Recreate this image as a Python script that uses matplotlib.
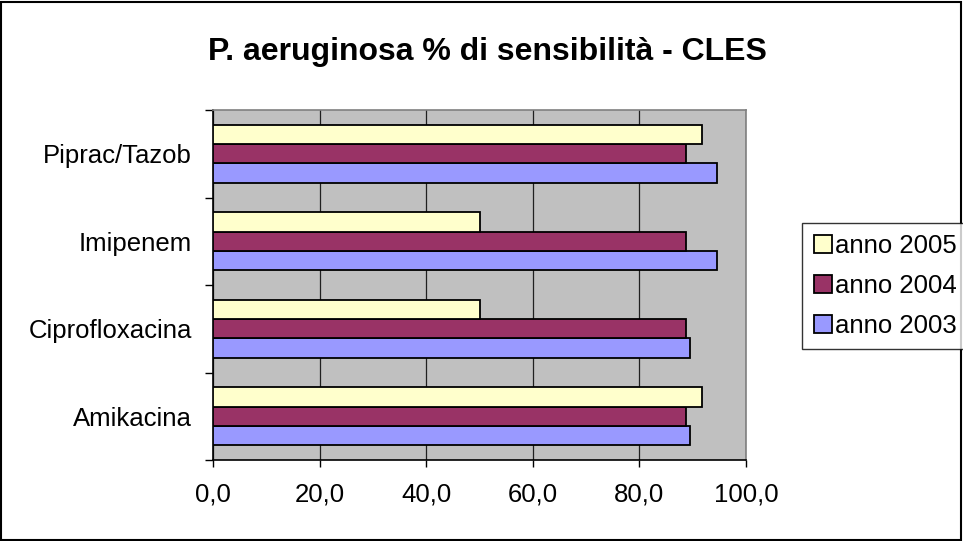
import matplotlib
matplotlib.use("Agg")
import matplotlib.pyplot as plt
import numpy as np
from matplotlib.patches import Rectangle

plt.rcParams['font.family'] = ['Liberation Sans', 'DejaVu Sans']

categories = ["Amikacina", "Ciprofloxacina", "Imipenem", "Piprac/Tazob"]
anno_2003 = [89.4, 89.4, 94.6, 94.6]
anno_2004 = [88.7, 88.7, 88.7, 88.7]
anno_2005 = [91.7, 50.0, 50.0, 91.7]
x_ticks = [0, 20, 40, 60, 80, 100]
x_labels = ["0,0", "20,0", "40,0", "60,0", "80,0", "100,0"]

series = [("anno 2003", anno_2003, "#9999FF"),
          ("anno 2004", anno_2004, "#993366"),
          ("anno 2005", anno_2005, "#FFFFCC")]

fig = plt.figure(figsize=(9.63, 5.41), dpi=100)
fig.patches.append(Rectangle((0.001, 0.001), 0.997, 0.996, transform=fig.transFigure,
                             fill=False, edgecolor="black", linewidth=1.5))

ax = fig.add_axes([213 / 963, 81 / 541, 533 / 963, 350 / 541])
ax.set_facecolor("#C0C0C0")

h = 2 / 9
y = np.arange(len(categories))
handles = []
for i, (name, vals, col) in enumerate(series):
    b = ax.barh(y + (i - 1) * h, vals, height=h, color=col, edgecolor="black",
                linewidth=1.3, label=name, zorder=3)
    handles.append(b)

ax.set_xlim(0, 100)
ax.set_ylim(-0.5, len(categories) - 0.5)
ax.set_xticks(x_ticks)
ax.set_xticklabels(x_labels, fontsize=18.5)
ax.set_yticks(y)
ax.set_yticklabels(categories, fontsize=18.5)
ax.tick_params(axis="y", length=0, pad=15)
ax.set_yticks(np.arange(-0.5, len(categories), 1), minor=True)
ax.tick_params(axis="y", which="minor", length=6, width=1, color="black")
ax.tick_params(axis="x", length=5, width=1, pad=11)
ax.xaxis.grid(True, color="#202020", linewidth=0.9, zorder=1)
ax.set_axisbelow(True)
for s in ["top", "right"]:
    ax.spines[s].set_color("#808080")
    ax.spines[s].set_linewidth(1.2)
for s in ["left", "bottom"]:
    ax.spines[s].set_color("black")
    ax.spines[s].set_linewidth(1.2)

fig.text(487 / 963, 1 - 52 / 541, "P. aeruginosa % di sensibilità - CLES",
         ha="center", va="center", fontsize=23, fontweight="bold")

leg = fig.legend(handles[::-1], [s[0] for s in series][::-1],
                 loc="center left", bbox_to_anchor=(802 / 963, 1 - 286 / 541),
                 fontsize=18.5, frameon=True, fancybox=False, edgecolor="black",
                 handlelength=0.7, handleheight=0.7, handletextpad=0.15,
                 labelspacing=0.62, borderpad=0.45, borderaxespad=0)
leg.get_frame().set_linewidth(1.0)

fig.savefig("out.png", dpi=100)
